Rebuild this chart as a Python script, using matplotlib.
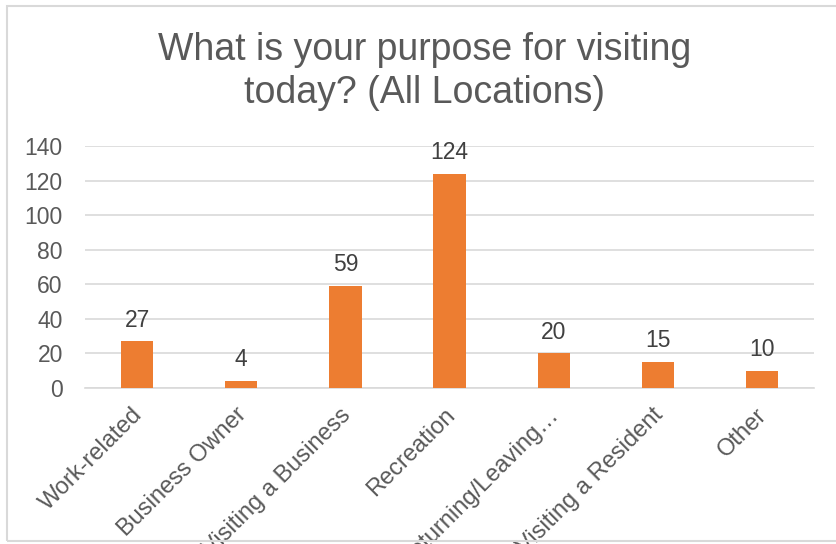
import matplotlib.pyplot as plt
import matplotlib.patches as patches
import matplotlib.transforms as mtransforms

categories = ['Work-related', 'Business Owner', 'Visiting a Business', 'Recreation',
              'Returning/Leaving…', 'Visiting a Resident', 'Other']
counts = [27, 4, 59, 124, 20, 15, 10]
yticks = [0, 20, 40, 60, 80, 100, 120, 140]

plt.rcParams['font.family'] = ['Liberation Sans', 'DejaVu Sans']

text_color = '#595959'
grid_color = '#D9D9D9'
bar_color = '#ED7D31'

fig = plt.figure(figsize=(8.36, 5.44), dpi=100)
ax = fig.add_axes([0.1017, 0.2868, 0.872, 0.4448])

x = list(range(len(categories)))
bars = ax.bar(x, counts, width=0.31, color=bar_color, zorder=3)

# data labels above bars
for rect, value in zip(bars, counts):
    ax.annotate(str(value), (rect.get_x() + rect.get_width() / 2, rect.get_height()),
                xytext=(0, 7), textcoords='offset points', ha='center', va='bottom',
                fontsize=16.5, color='#404040')

ax.set_xlim(-0.5, len(categories) - 0.5)
ax.set_ylim(0, 140)
ax.set_yticks(yticks)
ax.set_yticklabels([str(v) for v in yticks], fontsize=16.5, color=text_color)
ax.yaxis.grid(True, color=grid_color, linewidth=1.2, zorder=0)
ax.tick_params(axis='y', length=0, pad=16)
ax.tick_params(axis='x', length=0, pad=10)

ax.set_xticks(x)
ax.set_xticklabels(categories, rotation=45, ha='right', rotation_mode='anchor',
                   fontsize=17, color=text_color)

# nudge category labels a little left
shift = mtransforms.ScaledTranslation(-0.06, -0.02, fig.dpi_scale_trans)
for label in ax.get_xticklabels():
    label.set_transform(label.get_transform() + shift)

for side in ['left', 'right', 'top']:
    ax.spines[side].set_visible(False)
ax.spines['bottom'].set_color(grid_color)
ax.spines['bottom'].set_linewidth(1.2)

fig.text(0.508, 0.868, 'What is your purpose for visiting\ntoday? (All Locations)',
         ha='center', va='center', fontsize=27, color=text_color, linespacing=1.24)

# chart border
border = patches.Rectangle((0.0084, 0.0055), 1.0, 0.9835, transform=fig.transFigure,
                           fill=False, edgecolor=grid_color, linewidth=1.5)
fig.patches.append(border)

fig.savefig('out.png', dpi=100)
